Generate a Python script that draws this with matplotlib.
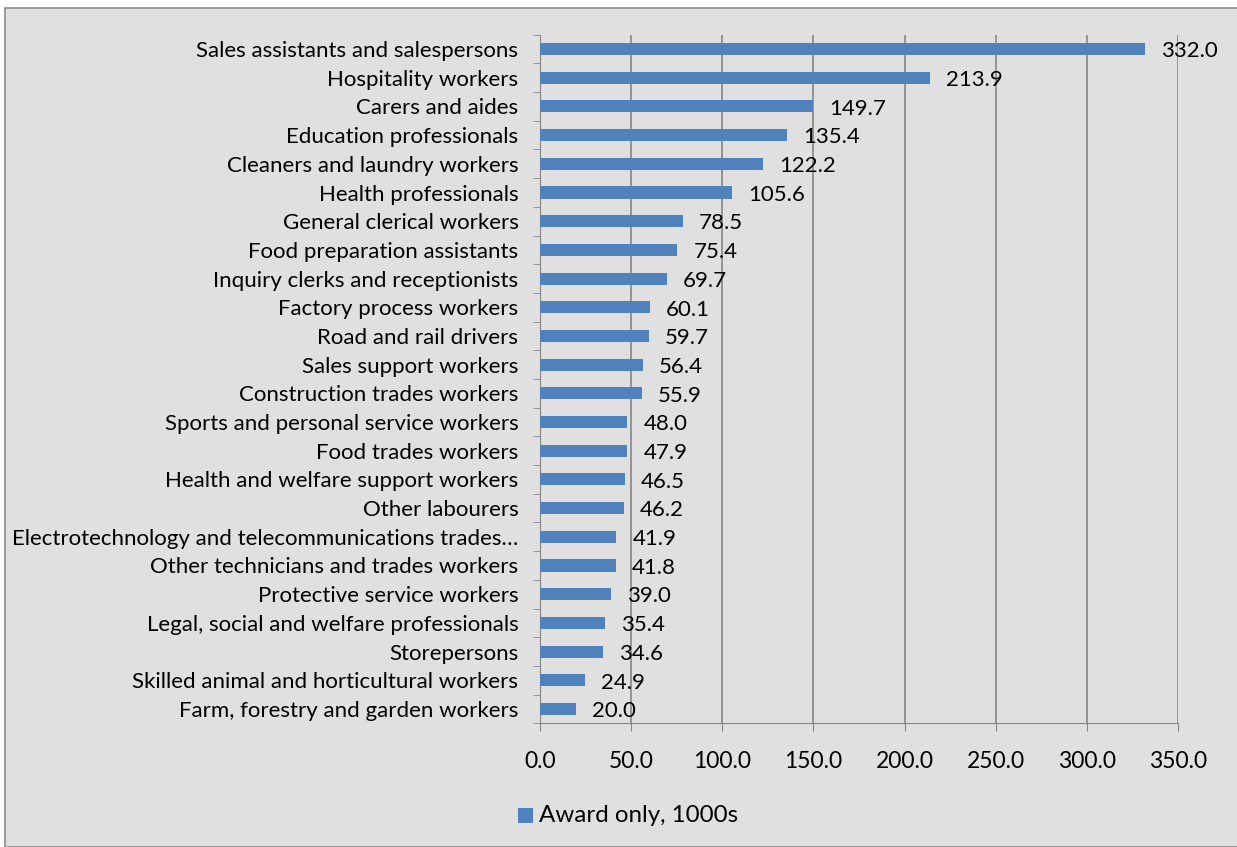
import numpy as np
import matplotlib.pyplot as plt
from matplotlib.patches import Rectangle

#Occupations and values (award only, 1000s)
occupations = [
    "Sales assistants and salespersons",
    "Hospitality workers",
    "Carers and aides",
    "Education professionals",
    "Cleaners and laundry workers",
    "Health professionals",
    "General clerical workers",
    "Food preparation assistants",
    "Inquiry clerks and receptionists",
    "Factory process workers",
    "Road and rail drivers",
    "Sales support workers",
    "Construction trades workers",
    "Sports and personal service workers",
    "Food trades workers",
    "Health and welfare support workers",
    "Other labourers",
    "Electrotechnology and telecommunications trades\u2026",
    "Other technicians and trades workers",
    "Protective service workers",
    "Legal, social and welfare professionals",
    "Storepersons",
    "Skilled animal and horticultural workers",
    "Farm, forestry and garden workers",
]
award_only = [332.0, 213.9, 149.7, 135.4, 122.2, 105.6, 78.5, 75.4, 69.7, 60.1,
              59.7, 56.4, 55.9, 48.0, 47.9, 46.5, 46.2, 41.9, 41.8, 39.0,
              35.4, 34.6, 24.9, 20.0]
xticks = [0, 50, 100, 150, 200, 250, 300, 350]

plt.rcParams['font.family'] = ['Lato', 'DejaVu Sans']
fs = 16
bg = '#e0e0e0'
blue = '#4f81bd'

W, H = 1237, 847
fig = plt.figure(figsize=(W/100, H/100), dpi=100)
fig.patch.set_facecolor('white')

#chart area box
fig.patches.append(Rectangle((5/W, 0), 1.2, 1 - 8/H, transform=fig.transFigure,
                             facecolor=bg, edgecolor='#8c8c8c', lw=1.2, zorder=-5))

left, right = 540/W, 1178/W
top, bottom = 1 - 34.7/H, 1 - 723.3/H
ax = fig.add_axes([left, bottom, right-left, top-bottom])
ax.patch.set_alpha(0)

n = len(occupations)
y = np.arange(n)
ax.barh(y, award_only, height=0.42, color=blue, zorder=3)
ax.set_ylim(n - 0.5, -0.5)
ax.set_xlim(0, 350)

for yi, v in zip(y, award_only):
    ax.text(v + 8.8, yi + 0.08, f"{v:.1f}", va='center', ha='left', fontsize=fs, zorder=4)

ax.set_xticks(xticks)
ax.set_xticklabels([f"{t:.1f}" for t in xticks], fontsize=16.5)
ax.set_yticks(y)
ax.set_yticklabels(occupations, fontsize=fs)
ax.tick_params(axis='y', length=0, pad=15.5)
ax.tick_params(axis='x', length=6, color='#868686', pad=14)
ax.set_yticks(np.arange(n + 1) - 0.5, minor=True)
ax.tick_params(axis='y', which='minor', length=5, color='#868686')
ax.grid(axis='x', color='#868686', lw=1.2, zorder=1)

for s in ['top', 'right']:
    ax.spines[s].set_visible(False)
ax.spines['left'].set_color('#868686')
ax.spines['bottom'].set_color('#868686')

#legend
fig.patches.append(Rectangle((518/W, 1 - 823/H), 15/W, 15/H, transform=fig.transFigure,
                             facecolor=blue, edgecolor='none'))
fig.text(539/W, 1 - 815/H, "Award only, 1000s", fontsize=17.4, va='center', ha='left')

fig.savefig('out.png', dpi=100, facecolor=fig.get_facecolor())
